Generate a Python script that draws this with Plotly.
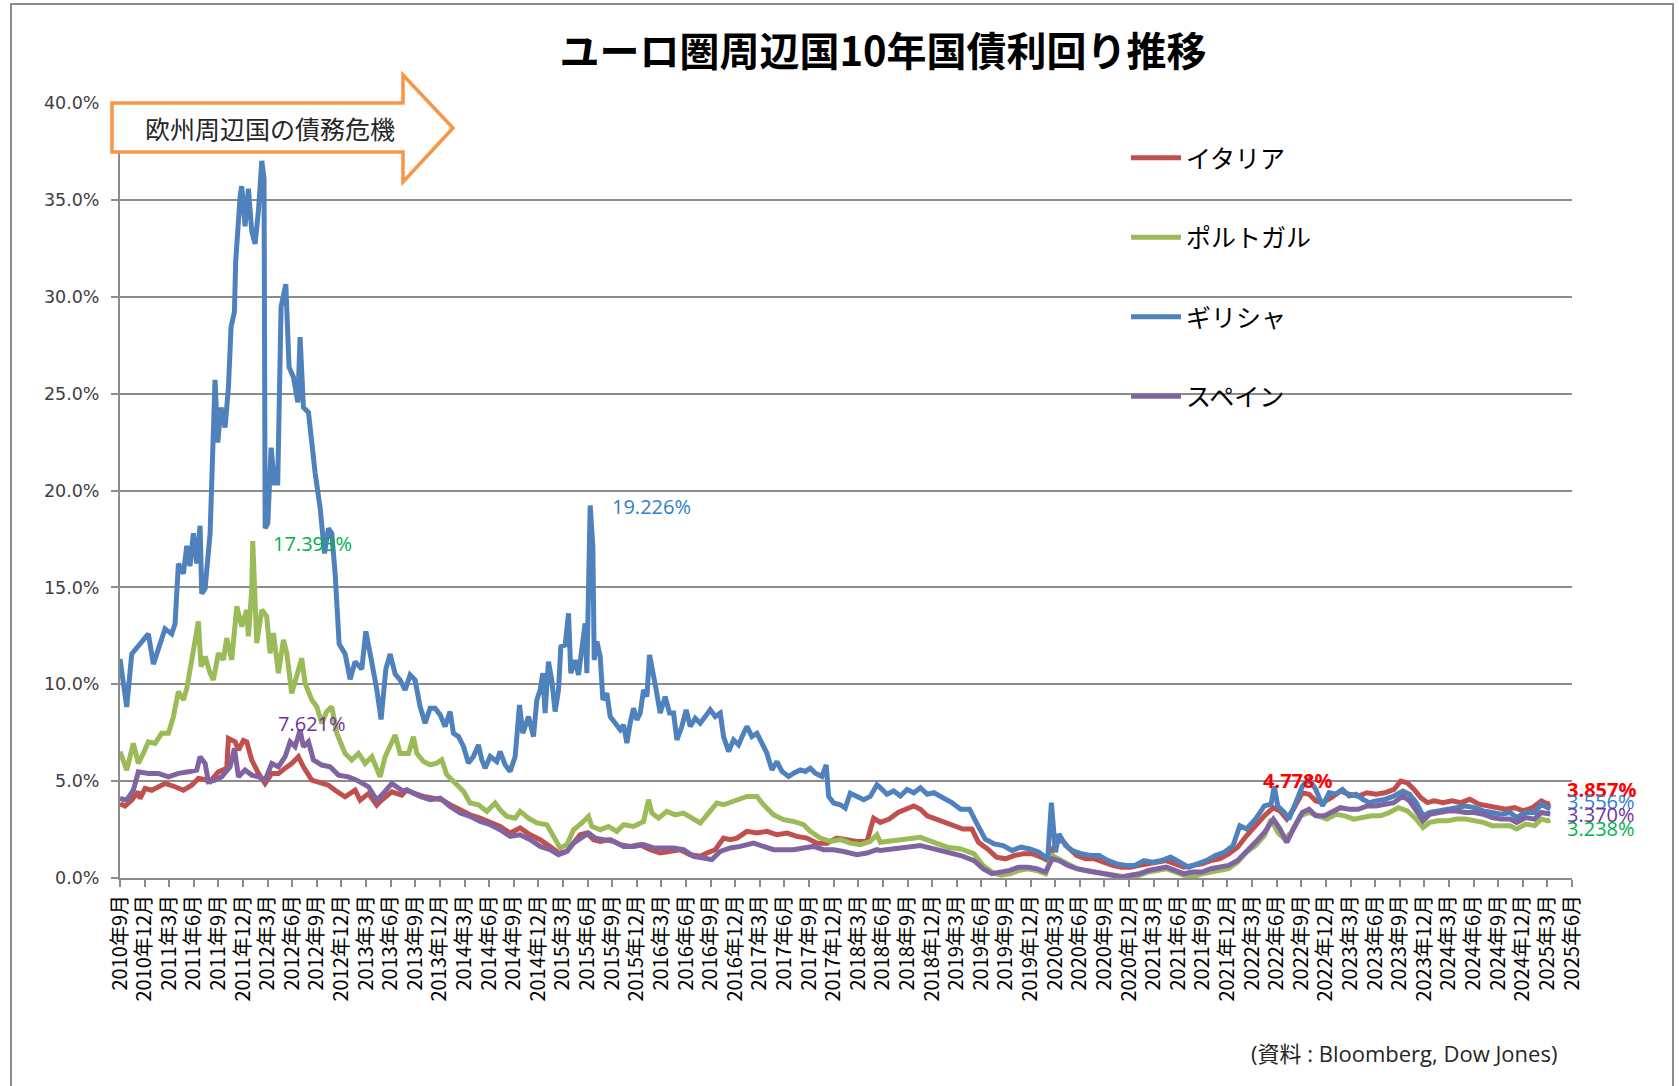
import plotly.graph_objects as go

# ---- data (x = decimal year, y = yield in %) ----
italy_t = [2010.667, 2010.718, 2010.786, 2010.853, 2010.870, 2010.921, 2010.989, 2011.057, 2011.124, 2011.226,
           2011.311, 2011.395, 2011.463, 2011.514, 2011.582, 2011.666, 2011.751, 2011.768, 2011.836, 2011.870,
           2011.920, 2011.954, 2012.005, 2012.073, 2012.141, 2012.208, 2012.276, 2012.344, 2012.411, 2012.479,
           2012.530, 2012.615, 2012.682, 2012.784, 2012.852, 2012.953, 2013.055, 2013.106, 2013.191, 2013.275,
           2013.326, 2013.428, 2013.529, 2013.580, 2013.648, 2013.749, 2013.851, 2013.935, 2014.020, 2014.122,
           2014.223, 2014.325, 2014.427, 2014.528, 2014.630, 2014.731, 2014.833, 2014.935, 2015.036, 2015.121,
           2015.206, 2015.274, 2015.341, 2015.409, 2015.477, 2015.545, 2015.646, 2015.748, 2015.849, 2015.951,
           2016.053, 2016.154, 2016.256, 2016.357, 2016.459, 2016.561, 2016.629, 2016.713, 2016.798, 2016.866,
           2016.934, 2017.035, 2017.137, 2017.238, 2017.340, 2017.442, 2017.543, 2017.645, 2017.747, 2017.848,
           2017.950, 2018.051, 2018.153, 2018.255, 2018.322, 2018.390, 2018.481, 2018.571, 2018.662, 2018.730,
           2018.798, 2018.866, 2018.957, 2019.048, 2019.139, 2019.229, 2019.320, 2019.388, 2019.479, 2019.570,
           2019.660, 2019.751, 2019.842, 2019.933, 2020.023, 2020.091, 2020.160, 2020.228, 2020.296, 2020.386,
           2020.477, 2020.568, 2020.659, 2020.749, 2020.840, 2020.931, 2021.022, 2021.112, 2021.203, 2021.294,
           2021.385, 2021.475, 2021.566, 2021.657, 2021.748, 2021.838, 2021.929, 2022.020, 2022.110, 2022.201,
           2022.292, 2022.383, 2022.451, 2022.519, 2022.587, 2022.678, 2022.746, 2022.814, 2022.882, 2022.973,
           2023.063, 2023.154, 2023.245, 2023.335, 2023.426, 2023.517, 2023.608, 2023.676, 2023.744, 2023.812,
           2023.880, 2023.948, 2024.016, 2024.107, 2024.197, 2024.288, 2024.379, 2024.470, 2024.560, 2024.651,
           2024.742, 2024.833, 2024.923, 2025.014, 2025.105, 2025.173, 2025.196]
italy_v = [3.84, 3.71, 4.02, 4.45, 4.10, 4.62, 4.53, 4.71, 4.88, 4.71,
           4.53, 4.79, 5.14, 5.10, 4.97, 5.48, 5.66, 7.20, 7.03, 6.60,
           7.10, 7.03, 6.09, 5.40, 4.88, 5.40, 5.40, 5.66, 5.91, 6.26,
           5.74, 5.05, 4.97, 4.79, 4.53, 4.19, 4.53, 4.02, 4.36, 3.76,
           4.02, 4.45, 4.28, 4.55, 4.38, 4.21, 4.12, 4.04, 3.78, 3.52,
           3.26, 3.09, 2.84, 2.66, 2.32, 2.58, 2.23, 1.98, 1.63, 1.29,
           1.37, 1.80, 2.23, 2.32, 1.98, 1.89, 1.98, 1.72, 1.63, 1.72,
           1.46, 1.29, 1.37, 1.46, 1.20, 1.12, 1.29, 1.46, 2.06, 1.98,
           2.06, 2.41, 2.32, 2.41, 2.23, 2.32, 2.15, 2.06, 1.80, 1.80,
           2.06, 1.98, 1.89, 1.89, 3.09, 2.87, 3.04, 3.38, 3.55, 3.72,
           3.55, 3.21, 3.04, 2.87, 2.70, 2.53, 2.53, 1.84, 1.50, 1.08,
           0.99, 1.16, 1.25, 1.25, 1.08, 0.90, 1.67, 2.01, 1.59, 1.16,
           0.99, 0.99, 0.82, 0.65, 0.56, 0.56, 0.65, 0.73, 0.82, 0.90,
           0.73, 0.56, 0.65, 0.73, 0.90, 0.99, 1.25, 1.59, 2.18, 2.70,
           3.21, 3.63, 3.46, 3.04, 3.55, 4.40, 4.32, 3.98, 3.89, 4.15,
           4.49, 4.32, 4.23, 4.40, 4.32, 4.40, 4.57, 5.00, 4.91, 4.57,
           4.15, 3.89, 3.98, 3.89, 3.98, 3.89, 4.06, 3.81, 3.72, 3.63,
           3.55, 3.63, 3.46, 3.63, 3.98, 3.81, 3.86]

portugal_t = [2010.667, 2010.735, 2010.802, 2010.853, 2010.904, 2010.955, 2011.023, 2011.090, 2011.158, 2011.209,
              2011.260, 2011.311, 2011.345, 2011.395, 2011.429, 2011.463, 2011.490, 2011.531, 2011.582, 2011.615,
              2011.666, 2011.717, 2011.751, 2011.802, 2011.853, 2011.903, 2011.954, 2011.971, 2012.005, 2012.015,
              2012.056, 2012.107, 2012.157, 2012.191, 2012.225, 2012.276, 2012.327, 2012.361, 2012.411, 2012.462,
              2012.513, 2012.547, 2012.615, 2012.666, 2012.716, 2012.767, 2012.818, 2012.869, 2012.953, 2013.021,
              2013.089, 2013.157, 2013.225, 2013.309, 2013.360, 2013.462, 2013.512, 2013.597, 2013.648, 2013.681,
              2013.749, 2013.817, 2013.885, 2013.935, 2013.986, 2014.071, 2014.156, 2014.223, 2014.308, 2014.393,
              2014.477, 2014.528, 2014.596, 2014.681, 2014.731, 2014.816, 2014.901, 2015.003, 2015.087, 2015.138,
              2015.206, 2015.274, 2015.358, 2015.426, 2015.460, 2015.545, 2015.629, 2015.714, 2015.782, 2015.883,
              2015.985, 2016.036, 2016.070, 2016.137, 2016.222, 2016.307, 2016.391, 2016.476, 2016.561, 2016.645,
              2016.730, 2016.798, 2016.900, 2017.035, 2017.137, 2017.204, 2017.306, 2017.408, 2017.509, 2017.611,
              2017.679, 2017.780, 2017.882, 2017.984, 2018.085, 2018.187, 2018.288, 2018.356, 2018.390, 2018.526,
              2018.662, 2018.798, 2018.934, 2019.071, 2019.207, 2019.343, 2019.434, 2019.524, 2019.615, 2019.706,
              2019.797, 2019.887, 2019.978, 2020.069, 2020.137, 2020.205, 2020.296, 2020.386, 2020.477, 2020.568,
              2020.659, 2020.749, 2020.840, 2020.931, 2021.022, 2021.112, 2021.203, 2021.294, 2021.385, 2021.475,
              2021.566, 2021.657, 2021.748, 2021.838, 2021.929, 2022.020, 2022.110, 2022.201, 2022.292, 2022.360,
              2022.428, 2022.496, 2022.564, 2022.655, 2022.746, 2022.836, 2022.927, 2023.018, 2023.109, 2023.199,
              2023.290, 2023.381, 2023.472, 2023.562, 2023.653, 2023.744, 2023.835, 2023.903, 2023.971, 2024.061,
              2024.152, 2024.243, 2024.334, 2024.424, 2024.515, 2024.606, 2024.697, 2024.787, 2024.855, 2024.946,
              2025.037, 2025.105, 2025.173, 2025.196]
portugal_v = [6.52, 5.57, 6.95, 5.91, 6.43, 7.03, 6.95, 7.47, 7.47, 8.33,
              9.62, 9.19, 9.79, 11.26, 12.47, 13.24, 10.91, 11.43, 10.57, 10.22,
              11.60, 11.26, 12.38, 11.26, 14.02, 12.98, 13.84, 12.47, 14.88, 17.393,
              12.12, 13.84, 13.50, 11.60, 12.64, 10.57, 12.29, 11.60, 9.53, 10.40,
              11.34, 10.05, 9.19, 8.84, 7.98, 8.59, 8.84, 7.47, 6.43, 6.09,
              6.43, 5.91, 6.26, 5.22, 6.26, 7.38, 6.43, 6.43, 7.29, 6.44,
              6.01, 5.84, 5.93, 6.10, 5.33, 4.90, 4.47, 3.87, 3.78, 3.44,
              3.87, 3.52, 3.18, 3.09, 3.44, 3.09, 2.84, 2.75, 1.98, 1.55,
              1.72, 2.49, 2.84, 3.18, 2.66, 2.49, 2.66, 2.41, 2.75, 2.66,
              2.92, 4.04, 3.35, 3.09, 3.44, 3.26, 3.35, 3.09, 2.84, 3.35,
              3.87, 3.78, 3.95, 4.21, 4.21, 3.78, 3.26, 3.01, 2.92, 2.75,
              2.41, 2.06, 1.89, 1.98, 1.80, 1.72, 1.89, 2.23, 1.84, 1.93,
              2.01, 2.10, 1.84, 1.59, 1.50, 1.25, 0.65, 0.31, 0.14, 0.22,
              0.39, 0.48, 0.39, 0.22, 1.16, 0.99, 0.73, 0.48, 0.39, 0.31,
              0.22, 0.14, 0.05, 0.02, 0.14, 0.31, 0.39, 0.48, 0.31, 0.14,
              0.05, 0.22, 0.31, 0.39, 0.48, 0.82, 1.33, 1.67, 2.18, 3.04,
              2.35, 2.01, 2.35, 3.21, 3.38, 3.21, 3.04, 3.29, 3.21, 3.04,
              3.12, 3.21, 3.21, 3.38, 3.63, 3.46, 3.04, 2.61, 2.87, 2.95,
              2.95, 3.04, 3.04, 2.95, 2.87, 2.70, 2.70, 2.70, 2.53, 2.78,
              2.70, 3.04, 2.95, 3.00]

greece_t = [2010.667, 2010.735, 2010.786, 2010.853, 2010.955, 2011.006, 2011.057, 2011.124, 2011.192, 2011.226,
            2011.260, 2011.311, 2011.345, 2011.378, 2011.412, 2011.446, 2011.480, 2011.497, 2011.531, 2011.582,
            2011.632, 2011.660, 2011.693, 2011.734, 2011.768, 2011.795, 2011.829, 2011.842, 2011.887, 2011.903,
            2011.937, 2011.971, 2012.005, 2012.039, 2012.073, 2012.107, 2012.130, 2012.141, 2012.168, 2012.202,
            2012.235, 2012.269, 2012.303, 2012.351, 2012.384, 2012.429, 2012.473, 2012.496, 2012.530, 2012.581,
            2012.649, 2012.700, 2012.744, 2012.784, 2012.818, 2012.852, 2012.893, 2012.954, 2013.004, 2013.055,
            2013.123, 2013.164, 2013.218, 2013.275, 2013.319, 2013.367, 2013.411, 2013.462, 2013.512, 2013.563,
            2013.614, 2013.664, 2013.715, 2013.766, 2013.817, 2013.868, 2013.919, 2013.969, 2014.020, 2014.054,
            2014.105, 2014.156, 2014.206, 2014.257, 2014.308, 2014.342, 2014.376, 2014.427, 2014.494, 2014.528,
            2014.579, 2014.630, 2014.681, 2014.725, 2014.759, 2014.816, 2014.867, 2014.901, 2014.935, 2014.962,
            2014.985, 2015.019, 2015.053, 2015.087, 2015.121, 2015.145, 2015.189, 2015.223, 2015.246, 2015.290,
            2015.324, 2015.358, 2015.392, 2015.409, 2015.426, 2015.443, 2015.470, 2015.484, 2015.511, 2015.545,
            2015.572, 2015.612, 2015.646, 2015.697, 2015.748, 2015.782, 2015.816, 2015.849, 2015.883, 2015.917,
            2015.951, 2015.985, 2016.019, 2016.046, 2016.080, 2016.114, 2016.154, 2016.205, 2016.249, 2016.290,
            2016.324, 2016.374, 2016.418, 2016.459, 2016.510, 2016.561, 2016.612, 2016.662, 2016.713, 2016.764,
            2016.798, 2016.849, 2016.900, 2016.950, 2017.001, 2017.035, 2017.086, 2017.137, 2017.187, 2017.238,
            2017.289, 2017.340, 2017.391, 2017.459, 2017.509, 2017.577, 2017.628, 2017.679, 2017.730, 2017.797,
            2017.841, 2017.865, 2017.916, 2017.984, 2018.034, 2018.085, 2018.153, 2018.221, 2018.288, 2018.356,
            2018.390, 2018.458, 2018.526, 2018.594, 2018.662, 2018.730, 2018.798, 2018.866, 2018.934, 2019.025,
            2019.116, 2019.207, 2019.297, 2019.365, 2019.456, 2019.547, 2019.638, 2019.728, 2019.819, 2019.910,
            2020.001, 2020.091, 2020.128, 2020.169, 2020.205, 2020.273, 2020.341, 2020.432, 2020.522, 2020.613,
            2020.704, 2020.795, 2020.885, 2020.976, 2021.067, 2021.158, 2021.248, 2021.339, 2021.430, 2021.521,
            2021.611, 2021.702, 2021.793, 2021.884, 2021.974, 2022.042, 2022.110, 2022.201, 2022.292, 2022.360,
            2022.392, 2022.428, 2022.496, 2022.541, 2022.610, 2022.678, 2022.746, 2022.814, 2022.882, 2022.950,
            2023.018, 2023.086, 2023.154, 2023.222, 2023.290, 2023.358, 2023.426, 2023.517, 2023.608, 2023.698,
            2023.766, 2023.835, 2023.903, 2023.971, 2024.061, 2024.152, 2024.243, 2024.334, 2024.424, 2024.515,
            2024.606, 2024.697, 2024.787, 2024.855, 2024.946, 2025.037, 2025.105, 2025.173, 2025.196]
greece_v = [11.30, 8.83, 11.56, 11.95, 12.60, 11.04, 11.82, 12.86, 12.60, 13.12,
            16.23, 15.71, 17.14, 16.10, 17.79, 16.23, 18.18, 14.68, 14.94, 17.79,
            25.71, 22.47, 24.29, 23.25, 25.32, 28.44, 29.22, 31.82, 35.19, 35.71,
            33.64, 35.58, 33.38, 32.73, 34.42, 37.01, 36.10, 18.05, 18.31, 22.21,
            20.39, 20.39, 29.48, 30.65, 26.36, 25.84, 24.55, 27.92, 24.29, 24.03,
            20.91, 19.09, 16.75, 18.05, 17.79, 15.71, 12.08, 11.56, 10.26, 11.17,
            10.78, 12.73, 11.30, 9.74, 8.18, 10.78, 11.56, 10.52, 10.22, 9.71,
            10.48, 10.22, 8.85, 7.99, 8.76, 8.76, 8.42, 7.82, 8.59, 7.47,
            7.30, 6.79, 5.93, 6.27, 6.87, 6.10, 5.67, 6.27, 6.01, 6.53,
            5.84, 5.50, 6.27, 8.93, 7.47, 8.33, 7.30, 9.19, 9.71, 10.57,
            8.51, 11.17, 10.22, 8.59, 9.71, 11.94, 12.03, 13.66, 10.57, 11.25,
            10.48, 11.94, 13.14, 10.57, 15.46, 19.226, 17.10, 11.25, 12.20, 11.43,
            9.19, 9.54, 8.33, 7.99, 7.65, 7.90, 6.96, 7.99, 8.76, 8.16,
            8.50, 9.71, 9.36, 11.51, 10.74, 9.71, 8.51, 9.36, 8.51, 8.51,
            7.13, 7.82, 8.68, 7.82, 8.25, 7.99, 8.33, 8.68, 8.33, 8.51,
            7.30, 6.53, 7.13, 6.87, 7.47, 7.82, 7.30, 7.47, 6.96, 6.44,
            5.58, 6.01, 5.50, 5.24, 5.41, 5.58, 5.50, 5.67, 5.41, 5.24,
            5.84, 4.21, 3.87, 3.78, 3.61, 4.38, 4.21, 4.04, 4.21, 4.81,
            4.66, 4.32, 4.49, 4.23, 4.57, 4.40, 4.66, 4.32, 4.40, 4.15,
            3.89, 3.55, 3.55, 2.87, 2.01, 1.76, 1.67, 1.42, 1.59, 1.50,
            1.33, 0.99, 3.89, 1.33, 2.27, 1.67, 1.42, 1.25, 1.16, 1.16,
            0.90, 0.73, 0.65, 0.65, 0.90, 0.82, 0.90, 1.08, 0.82, 0.56,
            0.73, 0.90, 1.16, 1.33, 1.67, 2.70, 2.53, 3.04, 3.72, 3.81,
            4.74, 3.72, 3.38, 3.04, 3.89, 4.74, 5.09, 4.57, 3.72, 4.40,
            4.32, 4.57, 4.23, 4.32, 4.06, 3.89, 3.98, 4.06, 4.23, 4.49,
            4.32, 3.89, 3.21, 3.38, 3.46, 3.55, 3.63, 3.72, 3.63, 3.46,
            3.38, 3.29, 3.38, 3.12, 3.38, 3.38, 3.81, 3.63, 3.56]

spain_t = [2010.667, 2010.735, 2010.802, 2010.853, 2010.955, 2011.057, 2011.158, 2011.260, 2011.362, 2011.446,
           2011.480, 2011.531, 2011.565, 2011.632, 2011.700, 2011.785, 2011.829, 2011.870, 2011.937, 2012.005,
           2012.073, 2012.141, 2012.208, 2012.276, 2012.344, 2012.395, 2012.445, 2012.496, 2012.530, 2012.581,
           2012.632, 2012.716, 2012.801, 2012.886, 2012.987, 2013.072, 2013.191, 2013.275, 2013.326, 2013.428,
           2013.529, 2013.614, 2013.715, 2013.817, 2013.919, 2014.020, 2014.122, 2014.223, 2014.325, 2014.427,
           2014.528, 2014.630, 2014.731, 2014.833, 2014.935, 2015.036, 2015.121, 2015.206, 2015.274, 2015.358,
           2015.426, 2015.494, 2015.579, 2015.680, 2015.782, 2015.883, 2015.985, 2016.087, 2016.188, 2016.290,
           2016.391, 2016.493, 2016.595, 2016.679, 2016.764, 2016.866, 2016.967, 2017.103, 2017.204, 2017.306,
           2017.408, 2017.509, 2017.611, 2017.713, 2017.814, 2017.916, 2018.018, 2018.153, 2018.255, 2018.356,
           2018.390, 2018.526, 2018.662, 2018.798, 2018.934, 2019.071, 2019.207, 2019.343, 2019.434, 2019.524,
           2019.615, 2019.706, 2019.797, 2019.887, 2019.978, 2020.069, 2020.137, 2020.205, 2020.296, 2020.386,
           2020.477, 2020.568, 2020.659, 2020.749, 2020.840, 2020.931, 2021.022, 2021.112, 2021.203, 2021.294,
           2021.385, 2021.475, 2021.566, 2021.657, 2021.748, 2021.838, 2021.929, 2022.020, 2022.110, 2022.201,
           2022.292, 2022.383, 2022.451, 2022.519, 2022.587, 2022.678, 2022.746, 2022.814, 2022.904, 2022.973,
           2023.063, 2023.154, 2023.245, 2023.335, 2023.426, 2023.517, 2023.608, 2023.698, 2023.766, 2023.835,
           2023.903, 2023.971, 2024.061, 2024.152, 2024.243, 2024.334, 2024.424, 2024.515, 2024.606, 2024.697,
           2024.787, 2024.855, 2024.946, 2025.037, 2025.105, 2025.173, 2025.196]
spain_v = [4.10, 4.02, 4.53, 5.48, 5.40, 5.40, 5.22, 5.40, 5.48, 5.57,
           6.26, 5.91, 4.97, 5.05, 5.22, 5.74, 6.69, 5.22, 5.57, 5.31,
           5.22, 5.05, 5.91, 5.74, 6.26, 7.03, 6.78, 7.621, 6.78, 7.03,
           6.09, 5.83, 5.74, 5.31, 5.22, 5.05, 4.71, 4.02, 4.28, 4.88,
           4.53, 4.47, 4.21, 4.04, 4.12, 3.69, 3.35, 3.18, 2.92, 2.75,
           2.49, 2.15, 2.23, 1.98, 1.63, 1.46, 1.20, 1.37, 1.80, 2.06,
           2.32, 2.06, 1.98, 1.89, 1.63, 1.63, 1.72, 1.55, 1.55, 1.55,
           1.46, 1.12, 1.03, 0.95, 1.37, 1.55, 1.63, 1.80, 1.63, 1.46,
           1.46, 1.46, 1.55, 1.63, 1.46, 1.46, 1.37, 1.20, 1.29, 1.46,
           1.42, 1.50, 1.59, 1.67, 1.50, 1.33, 1.16, 0.90, 0.48, 0.22,
           0.31, 0.39, 0.56, 0.56, 0.48, 0.31, 0.99, 0.90, 0.65, 0.48,
           0.39, 0.31, 0.22, 0.14, 0.05, 0.14, 0.22, 0.39, 0.48, 0.56,
           0.39, 0.22, 0.31, 0.31, 0.48, 0.56, 0.65, 0.90, 1.33, 1.84,
           2.35, 3.04, 2.53, 1.84, 2.53, 3.38, 3.55, 3.21, 3.21, 3.38,
           3.63, 3.55, 3.55, 3.72, 3.72, 3.81, 3.89, 4.23, 3.98, 3.46,
           2.95, 3.29, 3.38, 3.46, 3.46, 3.38, 3.38, 3.29, 3.12, 3.04,
           3.04, 2.87, 3.12, 3.04, 3.38, 3.29, 3.30]

series_names = ["イタリア", "ポルトガル", "ギリシャ", "スペイン"]
series_colors = ["#C0504D", "#9BBB59", "#4F81BD", "#8064A2"]

# value labels
label_x = [2012.201, 2015.647, 2012.252, 2022.262, 2025.342, 2025.342, 2025.342, 2025.342]
label_y = [17.29, 19.17, 8.00, 5.03, 4.59, 3.97, 3.30, 2.58]
label_text = ["17.393%", "19.226%", "7.621%", "4.778%", "3.857%", "3.556%", "3.370%", "3.238%"]
label_color = ["#00B050", "#2E80C8", "#7030A0", "#FF0000", "#FF0000", "#2E80C8", "#7030A0", "#00B050"]
label_bold = [False, False, False, True, True, False, False, False]

# x tick labels: quarterly from 2010年9月 to 2025年6月
tick_vals, tick_text = [], []
for q in range(60):
    m = 2010 * 12 + 8 + 3 * q
    yr, mo = m // 12, m % 12 + 1
    tick_vals.append(yr + (mo - 1) / 12)
    tick_text.append(f"{yr}年{mo}月")

y_ticks = [0, 5, 10, 15, 20, 25, 30, 35, 40]

JP = "Noto Sans CJK JP"
NUM = "Open Sans, Noto Sans CJK JP"

fig = go.Figure()
for name, color, t, v in zip(series_names, series_colors,
                             [italy_t, portugal_t, greece_t, spain_t],
                             [italy_v, portugal_v, greece_v, spain_v]):
    fig.add_trace(go.Scatter(x=t, y=v, mode="lines", name=name, legendgroup=name,
                             line=dict(color=color, width=5)))

W, H = 1679, 1086
L, R, T, B = 120, 107, 103, 208
pw, ph = W - L - R, H - T - B

def px(xp):
    return (xp - L) / pw

def py(yp):
    return (H - B - yp) / ph

annotations = []
for x, y, s, c, b in zip(label_x, label_y, label_text, label_color, label_bold):
    annotations.append(dict(x=x, y=y, xref="x", yref="y", text=f"<b>{s}</b>" if b else s,
                            showarrow=False, xanchor="left", yanchor="middle",
                            font=dict(family=NUM, size=20, color=c)))
annotations.append(dict(x=px(270), y=py(128), xref="paper", yref="paper", text="欧州周辺国の債務危機",
                        showarrow=False, xanchor="center", yanchor="middle",
                        font=dict(family=JP, size=25, color="#262626")))
annotations.append(dict(x=px(1559), y=py(1053), xref="paper", yref="paper",
                        text="(資料 : Bloomberg, Dow Jones)", showarrow=False,
                        xanchor="right", yanchor="middle",
                        font=dict(family=NUM, size=22, color="#262626")))

arrow_pts = [(112, 103), (403, 103), (403, 75), (453, 128), (403, 182), (403, 152), (112, 152)]
path = "M " + " L ".join(f"{px(a):.5f},{py(b):.5f}" for a, b in arrow_pts) + " Z"
shapes = [
    dict(type="path", xref="paper", yref="paper", path=path,
         line=dict(color="#F79646", width=3.5), fillcolor="white", layer="above"),
    dict(type="rect", xref="paper", yref="paper", x0=px(11), x1=px(1673), y0=py(1200), y1=py(4),
         line=dict(color="#8C8C8C", width=2), fillcolor="rgba(0,0,0,0)", layer="below"),
]

fig.update_layout(
    width=W, height=H,
    margin=dict(l=L, r=R, t=T, b=B, autoexpand=False),
    paper_bgcolor="white", plot_bgcolor="white",
    title=dict(text="<b>ユーロ圏周辺国10年国債利回り推移</b>", x=883 / W, xref="container", xanchor="center",
               y=1 - 52 / H, yref="container", yanchor="middle",
               font=dict(family=JP, size=40, color="black")),
    xaxis=dict(range=[tick_vals[0], tick_vals[-1]], tickmode="array", tickvals=tick_vals, ticktext=tick_text,
               tickangle=-90, showgrid=False, zeroline=False, showline=True, linecolor="#8C8C8C", linewidth=2,
               ticks="outside", ticklen=7, tickcolor="#8C8C8C", tickwidth=2,
               tickfont=dict(family=JP, size=20, color="black")),
    yaxis=dict(range=[0, 40], tickmode="array", tickvals=y_ticks,
               ticktext=[f"{v:.1f}%" for v in y_ticks], showgrid=True, gridcolor="#8C8C8C", gridwidth=2,
               zeroline=False, showline=True, linecolor="#8C8C8C", linewidth=2,
               ticks="outside", ticklen=7, tickcolor="#8C8C8C", tickwidth=2, ticklabelstandoff=8,
               tickfont=dict(family="DejaVu Sans", size=17.5, color="#404040")),
    legend=dict(x=px(1126), y=py(135), xanchor="left", yanchor="top", bgcolor="rgba(0,0,0,0)",
                font=dict(family=JP, size=25, color="black"), tracegroupgap=44, itemwidth=50,
                traceorder="grouped"),
    annotations=annotations, shapes=shapes,
)

fig.write_html("out.html", post_script="document.body.style.margin='0';",
               config={"displayModeBar": False})
